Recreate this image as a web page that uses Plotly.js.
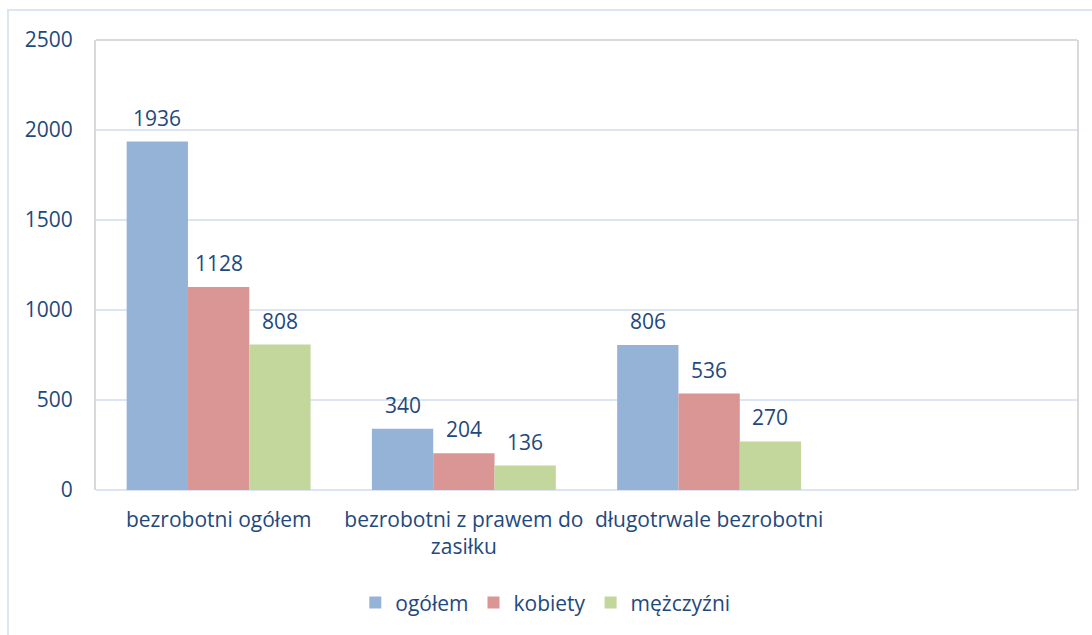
<!DOCTYPE html>
<html>
<head>
<meta charset="utf-8">
<script src="https://cdn.plot.ly/plotly-3.0.1.min.js"></script>
<style>
html,body{margin:0;padding:0;background:#fff;overflow:hidden;}
#wrap{position:relative;width:1092px;height:635px;}
#chart{position:absolute;left:0;top:0;width:1092px;height:635px;}
#frame{position:absolute;left:7px;top:9px;width:1200px;height:700px;border:2px solid #dce6f2;pointer-events:none;}
</style>
</head>
<body>
<div id="wrap"><div id="chart"></div><div id="frame"></div></div>
<script>
const categories = ["bezrobotni ogółem", "bezrobotni z prawem do<br>zasiłku", "długotrwale bezrobotni"];
const seriesNames = ["ogółem", "kobiety", "mężczyźni"];
const ogolem = [1936, 340, 806];
const kobiety = [1128, 204, 536];
const mezczyzni = [808, 136, 270];
const yTicks = [0, 500, 1000, 1500, 2000, 2500];

const textColor = "#1f497d";
const fontFamily = "'Open Sans', sans-serif";
const fontSize = 21;
const colors = ["#95b3d7", "#d99694", "#c3d69b"];
const values = [ogolem, kobiety, mezczyzni];

const W = 1092, H = 635;
const margin = {l: 96, r: 15, t: 40, b: 145};
const bargap = 0.25;
const nSlots = 4;
const plotW = W - margin.l - margin.r;
const barPx = plotW / nSlots * (1 - bargap) / values.length;

const traces = values.map((v, i) => ({
  type: "bar",
  name: seriesNames[i],
  x: categories,
  y: v,
  marker: {color: colors[i], line: {width: 0}},
  hoverinfo: "x+y+name"
}));

const annotations = [];
values.forEach((v, i) => {
  v.forEach((val, j) => {
    annotations.push({
      x: categories[j], y: val, xref: "x", yref: "y",
      text: String(val), showarrow: false,
      yanchor: "bottom", xanchor: "center",
      xshift: (i - (values.length - 1) / 2) * barPx,
      yshift: 8,
      font: {color: textColor, size: fontSize, family: fontFamily}
    });
  });
});

const layout = {
  width: W, height: H,
  margin: margin,
  paper_bgcolor: "rgba(0,0,0,0)",
  plot_bgcolor: "#fff",
  font: {family: fontFamily, color: textColor, size: fontSize},
  barmode: "group",
  bargap: bargap,
  bargroupgap: 0,
  showlegend: true,
  legend: {orientation: "h", x: 0.458, xanchor: "center", y: -0.251, yanchor: "middle",
           font: {size: fontSize, color: textColor, family: fontFamily}, itemwidth: 30, traceorder: "normal"},
  xaxis: {type: "category", range: [-0.5, nSlots - 0.5], showgrid: false, zeroline: false,
          showline: false, ticks: "", ticklabelstandoff: 15,
          tickfont: {size: fontSize, color: textColor, family: fontFamily}},
  yaxis: {range: [0, 2500], tickvals: yTicks, ticktext: yTicks.map(String),
          showgrid: true, gridcolor: "#dce6f2", gridwidth: 2,
          zeroline: true, zerolinecolor: "#dce6f2", zerolinewidth: 2,
          showline: true, mirror: true, linecolor: "#d9d9d9", linewidth: 2,
          ticks: "", ticklabelstandoff: 17,
          tickfont: {size: fontSize, color: textColor, family: fontFamily}},
  annotations: annotations,
  shapes: [{type: "line", xref: "paper", yref: "paper", x0: 0, x1: 1, y0: 1, y1: 1,
            line: {color: "#d9d9d9", width: 2}}]
};

Plotly.newPlot("chart", traces, layout, {displayModeBar: false, staticPlot: true});
</script>
</body>
</html>
